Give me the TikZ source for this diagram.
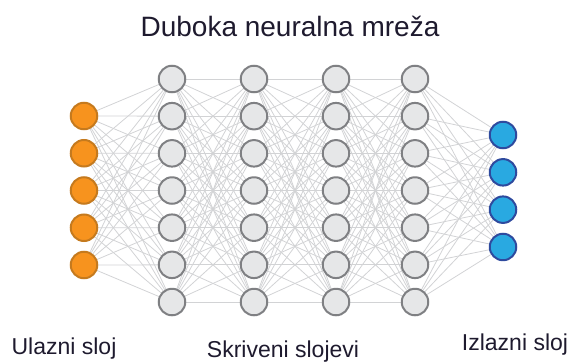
\documentclass[tikz,border=0pt]{standalone}
\usepackage{fontspec}
\setmainfont{Liberation Sans}
\usetikzlibrary{backgrounds}

\definecolor{ulazFill}{HTML}{F7931E}
\definecolor{ulazRub}{HTML}{C57A1E}
\definecolor{skrFill}{HTML}{E6E7E8}
\definecolor{skrRub}{HTML}{7F8083}
\definecolor{izlFill}{HTML}{29A9E1}
\definecolor{izlRub}{HTML}{2E4A9E}
\definecolor{vezaSiva}{HTML}{D2D3D5}
\definecolor{tekst}{HTML}{1E1A2E}

\begin{document}
\begin{tikzpicture}[x=1pt, y=-1pt,
    neuron/.style={circle, minimum size=26.5pt, inner sep=0pt, line width=2pt},
    ulazni/.style={neuron, fill=ulazFill, draw=ulazRub},
    skriveni/.style={neuron, fill=skrFill, draw=skrRub},
    izlazni/.style={neuron, fill=izlFill, draw=izlRub},
    veza/.style={draw=vezaSiva, line width=0.8pt},
    natpis/.style={anchor=base, text=tekst, font=\fontsize{23}{27}\selectfont}]
    % 1. Okvir slike
    \useasboundingbox (0, 0) rectangle (572, 363);

    % 2. Naslov
    \node[natpis, font=\fontsize{28}{33}\selectfont] (naslov) at (290, 37) {Duboka neuralna mreža};

    % 3. Ulazni sloj (narančasti)
    \foreach \i in {1,...,5}
        \node[ulazni] (u\i) at (84, {116 + 37.25*(\i-1)}) {};

    % 4. Skriveni slojevi (sivi)
    \foreach \s/\x in {1/172, 2/254, 3/336, 4/415}
        \foreach \i in {1,...,7}
            \node[skriveni] (h\s-\i) at (\x, {79 + 37.17*(\i-1)}) {};

    % 5. Izlazni sloj (plavi)
    \foreach \i in {1,...,4}
        \node[izlazni] (o\i) at (503, {135 + 37.33*(\i-1)}) {};

    % 6. Veze između slojeva (u pozadini)
    \begin{scope}[on background layer]
        \foreach \i in {1,...,5}
            \foreach \j in {1,...,7}
                \draw[veza] (u\i.center) -- (h1-\j.center);
        \foreach \s/\t in {1/2, 2/3, 3/4}
            \foreach \i in {1,...,7}
                \foreach \j in {1,...,7}
                    \draw[veza] (h\s-\i.center) -- (h\t-\j.center);
        \foreach \i in {1,...,7}
            \foreach \j in {1,...,4}
                \draw[veza] (h4-\i.center) -- (o\j.center);
    \end{scope}

    % 7. Natpisi slojeva
    \node[natpis] (lulaz) at (64, 354) {Ulazni sloj};
    \node[natpis] (lskr) at (283, 357.5) {Skriveni slojevi};
    \node[natpis] (lizl) at (515, 350) {Izlazni sloj};
\end{tikzpicture}
\end{document}
